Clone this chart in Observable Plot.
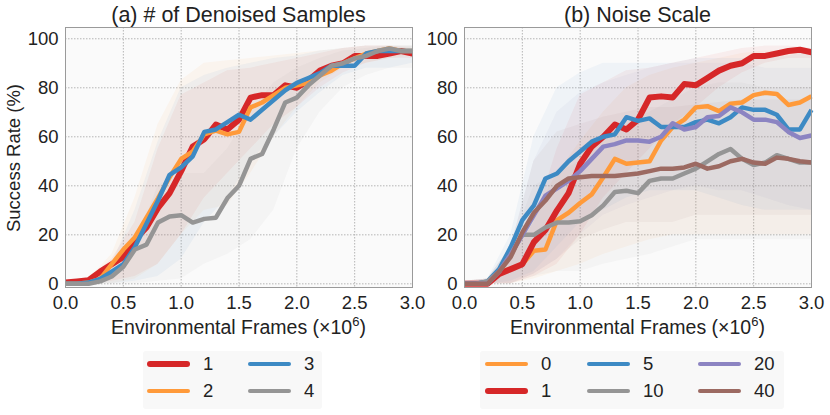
<!DOCTYPE html>
<html><head><meta charset="utf-8">
<script src="https://cdn.jsdelivr.net/npm/d3@7"></script>
<script src="https://cdn.jsdelivr.net/npm/@observablehq/plot@0.6"></script>
<style>
body{margin:0;background:#fff;font-family:"Liberation Sans",Arial,sans-serif;}
#wrap{position:relative;width:830px;height:415px;overflow:hidden;}
.panel{position:absolute;top:0;}
.panel svg{overflow:visible;}
.legend{position:absolute;background:#f8f8f8;border-radius:3px;}
.item{position:absolute;height:0;}
.sw{position:absolute;width:43px;border-radius:3px;}
.lb{position:absolute;font-size:18.5px;color:#222;line-height:18px;top:-9px;}
</style></head>
<body><div id="wrap"></div>
<script>
// ---- data ----
const frames = [0,0.1,0.2,0.3,0.4,0.5,0.6,0.7,0.8,0.9,1.0,1.1,1.2,1.3,1.4,1.5,1.6,1.7,1.8,1.9,2.0,2.1,2.2,2.3,2.4,2.5,2.6,2.7,2.8,2.9,3.0];
const bandFrames = [0,0.2,0.4,0.6,0.8,1.0,1.2,1.4,1.6,1.8,2.0,2.2,2.4,2.6,2.8,3.0];
const xTicks = [0,0.5,1.0,1.5,2.0,2.5,3.0];
const yTicks = [0,20,40,60,80,100];

// (a) # of Denoised Samples
const aKeys = ["1","2","3","4"];
const aColors = ["#d62728","#ff9a3a","#3d8ac4","#959595"];
const aWidths = [6,4.5,4.5,4.5];
const a1 = [0.5,1,1.5,5,8,11,18,23,31,37,46,56,59,65,63,67,76,77,77,81,80,83,87,89,90,93,93,93,94,95,94];
const a2 = [0,0,0.5,2,8,14,19,27,35,43.5,51,54,61,62.5,61,62,72,74,77,80,81,82,85,87,90,92,94,95,96,95,95];
const a3 = [0,0,0.5,2,5,8,15,24.5,34,44.5,47.5,52,62,63,66,69,67,71,75,79,82,84,86,89,89,89,94,95,95,95,95];
const a4 = [0,0,0,1,3,7,14,16,25,27.5,28,25,26.5,27,35,40,51,53,63,74,76,81,85,89,90,92,93,95,96,95,95];
const a1lo = [0,0,1,3,8,20,35,45,55,65,72,80,86,90,92,92];
const a1hi = [1,2,10,25,55,77,82,87,88,90,92,94,96,97,97,96];
const a2lo = [0,0,0,2,8,20,30,32,45,60,72,82,88,90,92,93];
const a2hi = [1,2,12,35,65,83,90,91,92,93,94,95,96,97,97,97];
const a3lo = [0,0,0,1,3,10,25,35,50,60,70,78,85,88,88,90];
const a3hi = [1,1,8,30,58,80,85,88,90,92,93,95,96,97,97,97];
const a4lo = [0,0,0,0,1,2,8,12,18,30,55,70,80,85,88,88];
const a4hi = [0,1,5,15,40,45,45,55,70,82,88,92,95,96,97,97];

// (b) Noise Scale
const bKeys = ["0","1","5","10","20","40"];
const bColors = ["#ff9a3a","#d62728","#3d8ac4","#959595","#8c84c2","#9c6a62"];
const bWidths = [4.5,6,4.5,4.5,4.5,4.5];
const b0 = [0,0,0,5,6,8,13.5,14,26,29,33,36.5,43.5,51,49,49.5,50,58.5,64,67,72,72.5,70.5,73.5,74,77,78,77.5,73,74,76.5];
const b1 = [0,0,0,4,6,8,17,22,30,37,49,56,60,65,63,67,76,76.5,76,81.5,81,84,87,89,90,93,93,94,95,95.5,94.5];
const b5 = [0,0,1,6,15,26,32,43,45,50,54,58,60,61,68,66.5,67.5,64,64,64,66,67,65.5,68,72,71,71,69,63,63,71];
const b10 = [0,0,1,5,12,20,20,23,25,25,25.5,28,32,37.5,38,37,42,43,43,45,47,50,53,55,51,48.5,49.5,52.5,51,49.5,49.5];
const b20 = [0,0,0,5,12,20,28,36,39,42,46,51,56,57,58.5,58.5,58,60,65.5,63,64,68,68.5,72,70,67,67,66,62,59.5,60.5];
const b40 = [0,0,0,5,11,21,29,34,40,43,43.5,44,44,44,44.5,45,46,47,47,47.5,49,47,48,50,51,49.5,49,51.5,51,50,49.5];
const b0lo = [0,0,0,2,5,8,12,15,18,20,20,20,20,20,20,20];
const b0hi = [1,2,12,28,45,58,70,80,85,88,90,92,94,95,95,95];
const b1lo = [0,0,0,3,8,20,35,45,55,65,72,80,86,90,92,92];
const b1hi = [1,2,10,25,55,77,82,87,88,90,92,94,96,97,97,96];
const b5lo = [0,0,1,5,15,25,30,35,38,38,38,35,32,30,30,30];
const b5hi = [1,2,20,60,80,86,90,90,90,90,92,92,92,92,93,95];
const b10lo = [0,0,0,3,5,5,8,10,12,15,18,18,18,18,18,18];
const b10hi = [1,2,15,40,45,50,60,65,70,75,80,82,82,80,80,80];
const b20lo = [0,0,0,4,10,20,28,32,35,38,40,38,38,35,32,30];
const b20hi = [1,2,15,50,70,78,82,85,88,90,90,90,90,88,88,88];
const b40lo = [0,0,0,4,10,18,22,25,25,25,28,28,28,28,28,28];
const b40hi = [1,2,15,50,62,65,68,70,72,72,73,74,75,75,75,75];

const seriesA = aKeys.map((k,i)=>({key:k,color:aColors[i],width:aWidths[i],mean:[a1,a2,a3,a4][i],lo:[a1lo,a2lo,a3lo,a4lo][i],hi:[a1hi,a2hi,a3hi,a4hi][i]}));
const seriesB = bKeys.map((k,i)=>({key:k,color:bColors[i],width:bWidths[i],mean:[b0,b1,b5,b10,b20,b40][i],lo:[b0lo,b1lo,b5lo,b10lo,b20lo,b40lo][i],hi:[b0hi,b1hi,b5hi,b10hi,b20hi,b40hi][i]}));

const FONT = '"Liberation Sans", Arial, sans-serif';

function makePanel(series, o) {
  const marks = [
    Plot.frame({fill:"#fafafa", stroke:null}),
    Plot.gridX(xTicks, {stroke:"#b5b5b5", strokeOpacity:1, strokeDasharray:"1.5,1.5"}),
    Plot.gridY(yTicks, {stroke:"#b5b5b5", strokeOpacity:1, strokeDasharray:"1.5,1.5"})
  ];
  series.forEach(s => {
    const rows = bandFrames.map((f,i)=>({x:f, lo:s.lo[i], hi:s.hi[i]}));
    marks.push(Plot.areaY(rows, {x:"x", y1:"lo", y2:"hi", fill:s.color, fillOpacity:0.06}));
  });
  series.forEach(s => {
    const rows = frames.map((f,i)=>({x:f, y:s.mean[i]}));
    marks.push(Plot.line(rows, {x:"x", y:"y", stroke:s.color, strokeWidth:s.width, strokeLinejoin:"round", strokeLinecap:"butt"}));
  });
  marks.push(Plot.frame({stroke:"#9a9a9a", strokeWidth:1}));
  marks.push(Plot.axisX(xTicks, {tickSize:0, tickPadding:8, tickFormat:d3.format(".1f"), fontSize:18.5, fill:"#222", label:null}));
  marks.push(Plot.axisY(yTicks, {tickSize:0, tickPadding:7, fontSize:18.5, fill:"#222", label:null}));
  const svg = Plot.plot({
    width:415, height:340,
    marginLeft:o.ml, marginRight:o.mr, marginTop:27, marginBottom:53,
    style:{fontFamily:FONT, fontSize:"18px", background:"transparent", overflow:"visible"},
    x:{domain:[0,3]},
    y:{domain:[-1.5,104.6]},
    marks
  });
  const sel = d3.select(svg);
  const cx = o.ml + (415 - o.ml - o.mr)/2;
  sel.append("text").attr("x",cx).attr("y",22).attr("text-anchor","middle")
    .attr("font-size",21.5).attr("fill","#222").attr("font-family",FONT).text(o.title);
  const xl = sel.append("text").attr("x",cx).attr("y",334).attr("text-anchor","middle")
    .attr("font-size",19.5).attr("fill","#222").attr("font-family",FONT);
  xl.append("tspan").text("Environmental Frames (×10");
  xl.append("tspan").attr("font-size",13).attr("dy",-8).text("6");
  xl.append("tspan").attr("dy",8).text(")");
  if (o.ylabel) {
    sel.append("text").attr("transform","translate(20,158) rotate(-90)").attr("text-anchor","middle")
      .attr("font-size",18.5).attr("fill","#222").attr("font-family",FONT).text(o.ylabel);
  }
  const div = document.createElement("div");
  div.className = "panel";
  div.style.left = o.left + "px";
  div.appendChild(svg);
  return div;
}

const wrap = document.getElementById("wrap");
wrap.appendChild(makePanel(seriesA, {ml:65, mr:3, left:0, title:"(a) # of Denoised Samples", ylabel:"Success Rate (%)"}));
wrap.appendChild(makePanel(seriesB, {ml:49, mr:19, left:415, title:"(b) Noise Scale"}));

function legend(series, box, cols) {
  const lg = document.createElement("div");
  lg.className = "legend";
  Object.assign(lg.style, {left:box.x+"px", top:box.y+"px", width:box.w+"px", height:box.h+"px"});
  series.forEach((s,i) => {
    const c = Math.floor(i/2), r = i%2;
    const it = document.createElement("div");
    it.className = "item";
    it.style.left = cols[c] + "px";
    it.style.top = (13 + r*27) + "px";
    const sw = document.createElement("div");
    sw.className = "sw";
    sw.style.background = s.color;
    sw.style.height = s.width + "px";
    sw.style.top = (-s.width/2) + "px";
    const lb = document.createElement("div");
    lb.className = "lb";
    lb.style.left = "56px";
    lb.textContent = s.key;
    it.appendChild(sw); it.appendChild(lb);
    lg.appendChild(it);
  });
  wrap.appendChild(lg);
}
legend(seriesA, {x:143, y:351, w:179, h:58}, [4,105]);
legend(seriesB, {x:480, y:351, w:304, h:58}, [5,107,218]);
</script></body></html>
